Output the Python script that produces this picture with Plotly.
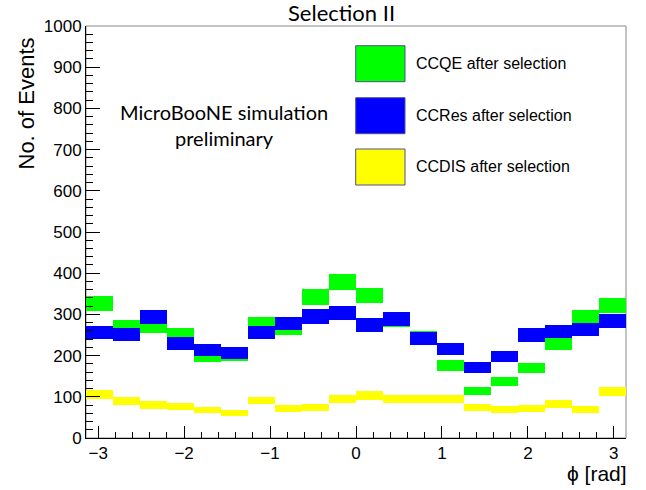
import numpy as np
import plotly.graph_objects as go

# ---- data ----
n_bins = 20
phi_min, phi_max = -np.pi, np.pi

ccqe_counts = [326, 270, 272, 252, 198, 200, 277, 266, 342, 378,
               346, 286, 244, 175, 114, 137, 170, 228, 293, 322]
ccqe_errors = [18, 16.4, 16.5, 15.9, 14, 14.1, 16.6, 16.3, 18.5, 19.4,
               18.6, 16.9, 15.6, 13.2, 10.7, 11.7, 13, 15.1, 17.1, 18]

ccres_counts = [256, 252, 294, 230, 214, 206, 256, 278, 295, 304,
                274, 289, 242, 215, 172, 198, 250, 258, 264, 285]
ccres_errors = [16, 15.9, 17.1, 15.2, 14.6, 14.4, 16, 16.7, 17.2, 17.4,
                16.6, 17, 15.6, 14.7, 13.1, 14.1, 15.8, 16.1, 16.2, 16.9]

ccdis_counts = [106, 89, 80, 76, 68, 61, 91, 72, 74, 95,
                103, 95, 95, 95, 75, 69, 72, 82, 69, 113]
ccdis_errors = [10.3, 9.4, 8.9, 8.7, 8.2, 7.8, 9.5, 8.5, 8.6, 9.7,
                10.1, 9.7, 9.7, 9.7, 8.7, 8.3, 8.5, 9.1, 8.3, 10.6]

series_names = ["CCQE after selection", "CCRes after selection", "CCDIS after selection"]
series_colors = ["#00ff00", "#0000ff", "#ffff00"]

# ---- histogram bins ----
edges = np.linspace(phi_min, phi_max, n_bins + 1)
centers = 0.5 * (edges[:-1] + edges[1:])
bw = edges[1] - edges[0]

fig = go.Figure()
for counts, errs, name, col in zip(
        [ccqe_counts, ccres_counts, ccdis_counts],
        [ccqe_errors, ccres_errors, ccdis_errors],
        series_names, series_colors):
    c = np.array(counts, dtype=float)
    e = np.array(errs, dtype=float)
    fig.add_trace(go.Bar(
        x=centers, y=2 * e, base=c - e, width=bw,
        marker=dict(color=col, line=dict(width=0)),
        name=name, showlegend=False,
        customdata=c, hovertemplate="%{customdata}<extra>" + name + "</extra>",
    ))

# plot area in pixels
L, R, T, B = 86, 626, 26, 438
W, H = R - L, B - T


def px(x):
    return (x - L) / W


def py(y):
    return (B - y) / H


shapes = [dict(type="rect", xref="paper", yref="paper", x0=0, x1=1, y0=0, y1=1,
               line=dict(color="#888888", width=1), layer="below")]
annotations = []

# custom ROOT-like legend
leg_tops = [45.7, 97.7, 149]
for top, name, col in zip(leg_tops, series_names, series_colors):
    shapes.append(dict(type="rect", xref="paper", yref="paper",
                       x0=px(355.7), x1=px(405), y0=py(top + 36), y1=py(top),
                       fillcolor=col, line=dict(color="#50508a", width=1)))
    annotations.append(dict(xref="paper", yref="paper", x=px(414), y=py(top + 18),
                            xanchor="left", yanchor="middle", showarrow=False,
                            text=name,
                            font=dict(family="Liberation Sans", size=16, color="black")))

annotations.append(dict(xref="paper", yref="paper", x=px(224), y=py(125),
                        xanchor="center", yanchor="middle", showarrow=False,
                        text="MicroBooNE simulation<br>preliminary",
                        font=dict(family="Lato", size=20, color="black")))

annotations.append(dict(xref="paper", yref="paper", x=px(628), y=py(473),
                        xanchor="right", yanchor="middle", showarrow=False,
                        borderpad=0,
                        text="\u03d5 [rad]",
                        font=dict(family="Liberation Sans", size=21, color="black")))

annotations.append(dict(xref="paper", yref="paper", x=px(26), y=py(103.5),
                        xanchor="center", yanchor="middle", showarrow=False,
                        textangle=-90, text="No. of Events",
                        font=dict(family="Liberation Sans", size=22, color="black")))

annotations.append(dict(xref="paper", yref="paper", x=px(341), y=py(13),
                        xanchor="center", yanchor="middle", showarrow=False,
                        text="Selection II",
                        font=dict(family="Lato", size=22, color="black")))

fig.update_layout(
    width=646, height=490,
    margin=dict(l=L, r=646 - R, t=T, b=490 - B),
    paper_bgcolor="white", plot_bgcolor="white",
    barmode="overlay", bargap=0,
    shapes=shapes, annotations=annotations,
    font=dict(family="Liberation Sans", size=17, color="black"),
)
fig.update_xaxes(
    range=[phi_min, phi_max], dtick=1, tick0=0,
    ticks="inside", ticklen=12, tickcolor="black", tickwidth=1,
    showline=True, linecolor="black", linewidth=1, mirror=False,
    showgrid=False, zeroline=False,
    tickfont=dict(family="Liberation Sans", size=17),
    minor=dict(ticks="inside", ticklen=6, dtick=0.2, tick0=0, tickcolor="black", showgrid=False),
)
fig.update_yaxes(
    range=[0, 1000], dtick=100, tick0=0,
    ticks="inside", ticklen=14, tickcolor="black", tickwidth=1,
    showline=True, linecolor="black", linewidth=1, mirror=False,
    showgrid=False, zeroline=False,
    tickfont=dict(family="Liberation Sans", size=17),
    minor=dict(ticks="inside", ticklen=7, dtick=20, tick0=0, tickcolor="black", showgrid=False),
)

fig.write_html("out.html")
